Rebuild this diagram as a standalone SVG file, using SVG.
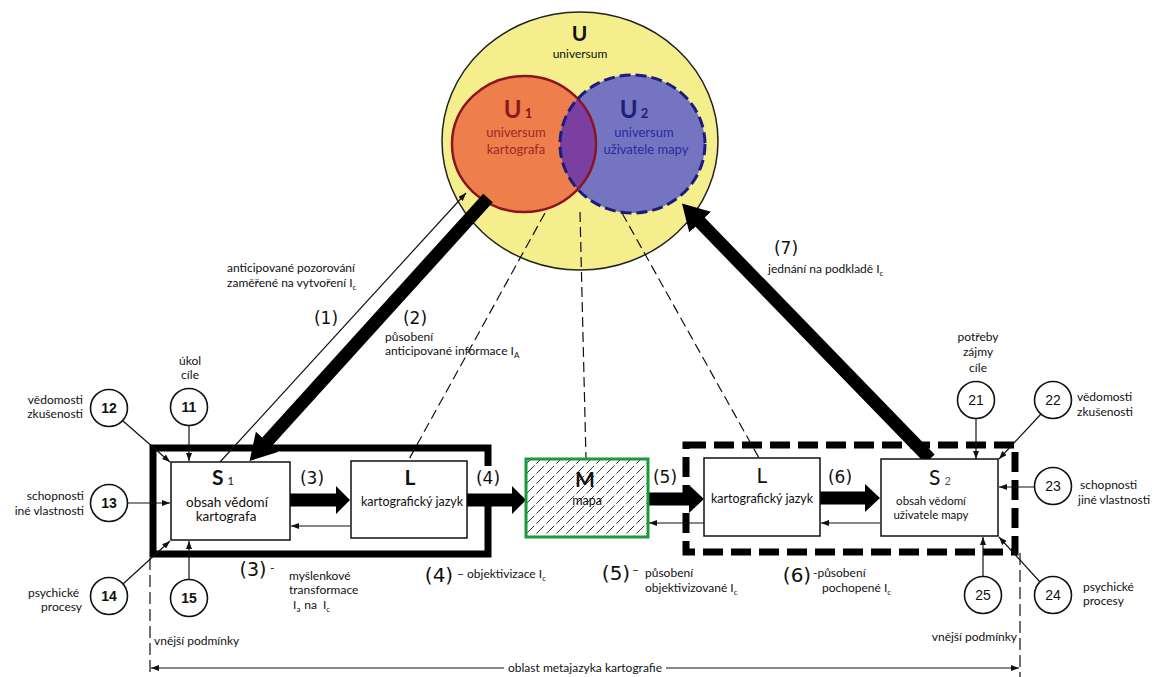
<svg xmlns="http://www.w3.org/2000/svg" width="1158" height="677" viewBox="0 0 1158 677">
<style>
.t{font-family:Lato,"Open Sans",sans-serif;font-size:12px;fill:#111}
.m{text-anchor:middle}
.e{text-anchor:end}
.n{font-family:"Liberation Sans",Arial,sans-serif;font-weight:bold;font-size:14px;fill:#111;text-anchor:middle}
.p{font-family:"DejaVu Sans",sans-serif;font-size:17px;fill:#111}
.thin{stroke:#111;stroke-width:1.2;fill:none}
.dash{stroke:#111;stroke-width:1.2;stroke-dasharray:10 5;fill:none}
.box{fill:#fff;stroke:#111;stroke-width:1.5}
.nc{fill:#fff;stroke:#111;stroke-width:1.6}
.big{fill:#000}
</style>
<defs>
<marker id="sm" viewBox="0 0 8 6" markerWidth="8" markerHeight="6" refX="8" refY="3" orient="auto-start-reverse" markerUnits="userSpaceOnUse"><path d="M0,0 L8,3 L0,6 z" fill="#111"/></marker>
<marker id="bh" viewBox="0 0 26 30" markerWidth="26" markerHeight="30" refX="3" refY="15" orient="auto" markerUnits="userSpaceOnUse"><path d="M0,0 L26,15 L0,30 z" fill="#000"/></marker>
<pattern id="hatch" patternUnits="userSpaceOnUse" width="10" height="10"><path d="M-1,1 L1,-1 M0,10 L10,0 M9,11 L11,9" stroke="#333" stroke-width="1" stroke-dasharray="6 3"/></pattern>
<clipPath id="c1"><ellipse cx="524" cy="144" rx="72" ry="68"/></clipPath>
</defs>

<g id="universe">
<ellipse cx="580" cy="141" rx="138" ry="129" fill="#f4ee8c" stroke="#222" stroke-width="1.5"/>
<text class="m" x="579.5" y="41" style="font-family:Lato,sans-serif;font-weight:bold;font-size:21px;fill:#111">U</text>
<text class="t m" x="580" y="58">universum</text>
</g>
<g id="U1">
<ellipse cx="524" cy="144" rx="72" ry="68" fill="#ee7e4c"/>
</g>
<g id="U2">
<ellipse cx="632.5" cy="144" rx="72.5" ry="69" fill="#7574c1"/>
<ellipse cx="632.5" cy="144" rx="72.5" ry="69" fill="#7b3fa2" clip-path="url(#c1)"/>
<ellipse cx="524" cy="144" rx="72" ry="68" fill="none" stroke="#8a1520" stroke-width="2.5"/>
<ellipse cx="632.5" cy="144" rx="72.5" ry="69" fill="none" stroke="#1c1c7c" stroke-width="3" stroke-dasharray="11 5"/>
<text x="518" y="118" style="font-family:Lato,sans-serif;font-weight:bold;font-size:24px;fill:#8a1a1a;text-anchor:middle">U<tspan font-size="13" dx="3">1</tspan></text>
<text class="t m" x="516" y="137" style="fill:#a0262a;font-size:13px">universum</text>
<text class="t m" x="516" y="154" style="fill:#a0262a;font-size:13px">kartografa</text>
<text x="634" y="118" style="font-family:Lato,sans-serif;font-weight:bold;font-size:24px;fill:#1f1f7a;text-anchor:middle">U<tspan font-size="13" dx="3">2</tspan></text>
<text class="t m" x="644" y="137" style="fill:#2a2aa0;font-size:13px">universum</text>
<text class="t m" x="646" y="154" style="fill:#2a2aa0;font-size:13px">uživatele mapy</text>
</g>

<g id="connectors">
<path d="M488,466 V448 H153 V554 H488 V505" fill="none" stroke="#000" stroke-width="7"/>
<rect x="686" y="445" width="329" height="107" fill="none" stroke="#000" stroke-width="7" stroke-dasharray="20 8"/>
<line class="dash" x1="545" y1="213" x2="408" y2="461"/>
<line class="dash" x1="580" y1="212" x2="586" y2="459"/>
<line class="dash" x1="622" y1="213" x2="759" y2="458"/>
<line class="thin" x1="220" y1="462" x2="466" y2="193" marker-end="url(#sm)"/>
<line x1="488" y1="198" x2="265" y2="444" stroke="#000" stroke-width="13" marker-end="url(#bh)"/>
<line x1="930" y1="459" x2="698" y2="220" stroke="#000" stroke-width="13" marker-end="url(#bh)"/>
<polygon class="big" points="290,493.5 336,493.5 336,486 350,500 336,514 336,506.5 290,506.5"/>
<polygon class="big" points="467,493.5 512,493.5 512,486 526,500 512,514 512,506.5 467,506.5"/>
<polygon class="big" points="648,492.5 689,492.5 689,485 704,499 689,513 689,505.5 648,505.5"/>
<polygon class="big" points="820,491.5 865,491.5 865,484 880,498 865,512 865,504.5 820,504.5"/>
<line class="thin" x1="350" y1="526" x2="291" y2="526" marker-end="url(#sm)"/>
<line class="thin" x1="704" y1="523" x2="649" y2="523" marker-end="url(#sm)"/>
<line class="thin" x1="880" y1="523" x2="821" y2="523" marker-end="url(#sm)"/>
<line class="thin" x1="189" y1="425" x2="189" y2="461" marker-end="url(#sm)"/>
<line class="thin" x1="123" y1="421" x2="170" y2="462" marker-end="url(#sm)"/>
<line class="thin" x1="128" y1="503" x2="170" y2="503" marker-end="url(#sm)"/>
<line class="thin" x1="123" y1="584" x2="170" y2="541" marker-end="url(#sm)"/>
<line class="thin" x1="189" y1="579" x2="189" y2="541" marker-end="url(#sm)"/>
<line class="thin" x1="976" y1="419" x2="976" y2="459" marker-end="url(#sm)"/>
<line class="thin" x1="1041" y1="414" x2="999" y2="459" marker-end="url(#sm)"/>
<line class="thin" x1="1034" y1="487" x2="999" y2="487" marker-end="url(#sm)"/>
<line class="thin" x1="1040" y1="582" x2="999" y2="537" marker-end="url(#sm)"/>
<line class="thin" x1="983" y1="576" x2="983" y2="537" marker-end="url(#sm)"/>
<line x1="150" y1="558" x2="150" y2="677" stroke="#111" stroke-width="1.2" stroke-dasharray="12 5"/>
<line x1="1020" y1="553" x2="1020" y2="677" stroke="#111" stroke-width="1.2" stroke-dasharray="12 5"/>
<line class="thin" x1="504" y1="668" x2="151" y2="668" marker-end="url(#sm)"/>
<line class="thin" x1="666" y1="668" x2="1019" y2="668" marker-end="url(#sm)"/>
</g>

<g id="S1">
<rect class="box" x="171" y="462" width="119" height="78"/>
<text x="223" y="485" style="font-family:Lato,sans-serif;font-weight:bold;font-size:21px;fill:#111;text-anchor:middle">S<tspan font-size="11" font-weight="normal" dx="4">1</tspan></text>
<text class="t m" x="227" y="507" style="font-size:13.5px">obsah vědomí</text>
<text class="t m" x="226" y="521" style="font-size:13.5px">kartografa</text>
</g>
<g id="L1">
<rect class="box" x="351" y="461" width="116" height="77"/>
<text x="410" y="485" style="font-family:Lato,sans-serif;font-weight:bold;font-size:21px;fill:#111;text-anchor:middle">L</text>
<text class="t m" x="412" y="506" style="font-size:12.5px">kartografický jazyk</text>
</g>
<g id="M">
<rect x="526" y="459" width="122" height="78" fill="#fff"/>
<rect x="526" y="459" width="122" height="78" fill="url(#hatch)" stroke="#1a9a3a" stroke-width="3"/>
<text x="585" y="487" style="font-family:Lato,sans-serif;font-weight:bold;font-size:21px;fill:#111;text-anchor:middle">M</text>
<text class="t m" x="587" y="505" style="font-size:12.5px">mapa</text>
</g>
<g id="L2">
<rect class="box" x="704" y="458" width="116" height="78"/>
<text x="762" y="483" style="font-family:Lato,sans-serif;font-size:21px;fill:#111;text-anchor:middle">L</text>
<text class="t m" x="762" y="503" style="font-size:12.5px">kartografický jazyk</text>
</g>
<g id="S2">
<rect class="box" x="881" y="459" width="117" height="77"/>
<text x="940" y="485" style="font-family:Lato,sans-serif;font-size:21px;fill:#111;text-anchor:middle">S<tspan font-size="11" dx="4" fill="#555">2</tspan></text>
<text class="t m" x="931" y="505" style="font-size:11.5px">obsah vědomí</text>
<text class="t m" x="931" y="519" style="font-size:11.5px">uživatele mapy</text>
</g>

<g id="n11"><circle class="nc" cx="189" cy="407" r="18.5"/><text class="n" x="189" y="412">11</text>
<text class="t m" x="190" y="365">úkol</text><text class="t m" x="190" y="379">cíle</text></g>
<g id="n12"><circle class="nc" cx="109" cy="408" r="18.5"/><text class="n" x="109" y="413">12</text>
<text class="t e" x="83" y="404">vědomosti</text><text class="t e" x="83" y="418">zkušenosti</text></g>
<g id="n13"><circle class="nc" cx="109" cy="503" r="18.5"/><text class="n" x="109" y="508">13</text>
<text class="t e" x="84" y="500">schopnosti</text><text class="t e" x="84" y="515">iné vlastnosti</text></g>
<g id="n14"><circle class="nc" cx="109" cy="596" r="18.5"/><text class="n" x="109" y="601">14</text>
<text class="t e" x="79" y="597">psychické</text><text class="t e" x="82" y="611">procesy</text></g>
<g id="n15"><circle class="nc" cx="189" cy="598" r="18.5"/><text class="n" x="189" y="603">15</text>
<text class="t" x="154" y="645">vnější podmínky</text></g>

<g id="n21"><circle class="nc" cx="976" cy="400" r="18.5"/><text class="n" x="976" y="405" style="font-weight:normal">21</text>
<text class="t m" x="978" y="341">potřeby</text><text class="t m" x="978" y="356">zájmy</text><text class="t m" x="978" y="372">cíle</text></g>
<g id="n22"><circle class="nc" cx="1053" cy="400" r="18.5"/><text class="n" x="1053" y="405" style="font-weight:normal">22</text>
<text class="t" x="1077" y="401">vědomosti</text><text class="t" x="1077" y="416">zkušenosti</text></g>
<g id="n23"><circle class="nc" cx="1053" cy="486" r="18.5"/><text class="n" x="1053" y="491" style="font-weight:normal">23</text>
<text class="t" x="1080" y="489">schopnosti</text><text class="t" x="1078" y="504">jiné vlastnosti</text></g>
<g id="n24"><circle class="nc" cx="1053" cy="595" r="18.5"/><text class="n" x="1053" y="600" style="font-weight:normal">24</text>
<text class="t" x="1083" y="591">psychické</text><text class="t" x="1083" y="605">procesy</text></g>
<g id="n25"><circle class="nc" cx="983" cy="595" r="18.5"/><text class="n" x="983" y="600" style="font-weight:normal">25</text>
<text class="t e" x="1017" y="641">vnější podmínky</text></g>

<g id="labels">
<text class="t" x="227" y="272">anticipované pozorování</text>
<text class="t" x="227" y="287">zaměřené na vytvoření I<tspan font-size="8" dy="3">c</tspan></text>
<text class="p m" x="326" y="324">(1)</text>
<text class="p m" x="415" y="324">(2)</text>
<text class="t" x="385" y="341">působení</text>
<text class="t" x="385" y="355">anticipované informace I<tspan font-size="8" dy="3">A</tspan></text>
<text class="p m" x="786" y="254">(7)</text>
<text class="t" x="768" y="273">jednání na podkladě I<tspan font-size="8" dy="3">c</tspan></text>
<text class="p m" x="312" y="484">(3)</text>
<text class="p m" x="488" y="484">(4)</text>
<text class="p m" x="665" y="483">(5)</text>
<text class="p m" x="840" y="483">(6)</text>
<text class="p m" x="253" y="576" style="font-size:19px">(3)</text>
<text class="t" x="270" y="572">-</text>
<text class="t" x="289" y="580">myšlenkové</text>
<text class="t" x="289" y="594">transformace</text>
<text class="t" x="293" y="609">I<tspan font-size="8" dy="3">a</tspan><tspan dy="-3" dx="4">na</tspan><tspan dx="6">I</tspan><tspan font-size="8" dy="3">c</tspan></text>
<text class="p m" x="439" y="582" style="font-size:20px">(4)</text>
<text class="t" x="457" y="578">– objektivizace I<tspan font-size="8" dy="3">c</tspan></text>
<text class="p m" x="616" y="580" style="font-size:20px">(5)</text>
<text class="t" x="632" y="574">–</text>
<text class="t" x="645" y="577">působení</text>
<text class="t" x="645" y="592">objektivizované I<tspan font-size="8" dy="3">c</tspan></text>
<text class="p m" x="797" y="582" style="font-size:20px">(6)</text>
<text class="t" x="813" y="577">-působení</text>
<text class="t" x="822" y="592">pochopené I<tspan font-size="8" dy="3">c</tspan></text>
<text class="t m" x="585" y="672">oblast metajazyka kartografie</text>
</g>
</svg>
